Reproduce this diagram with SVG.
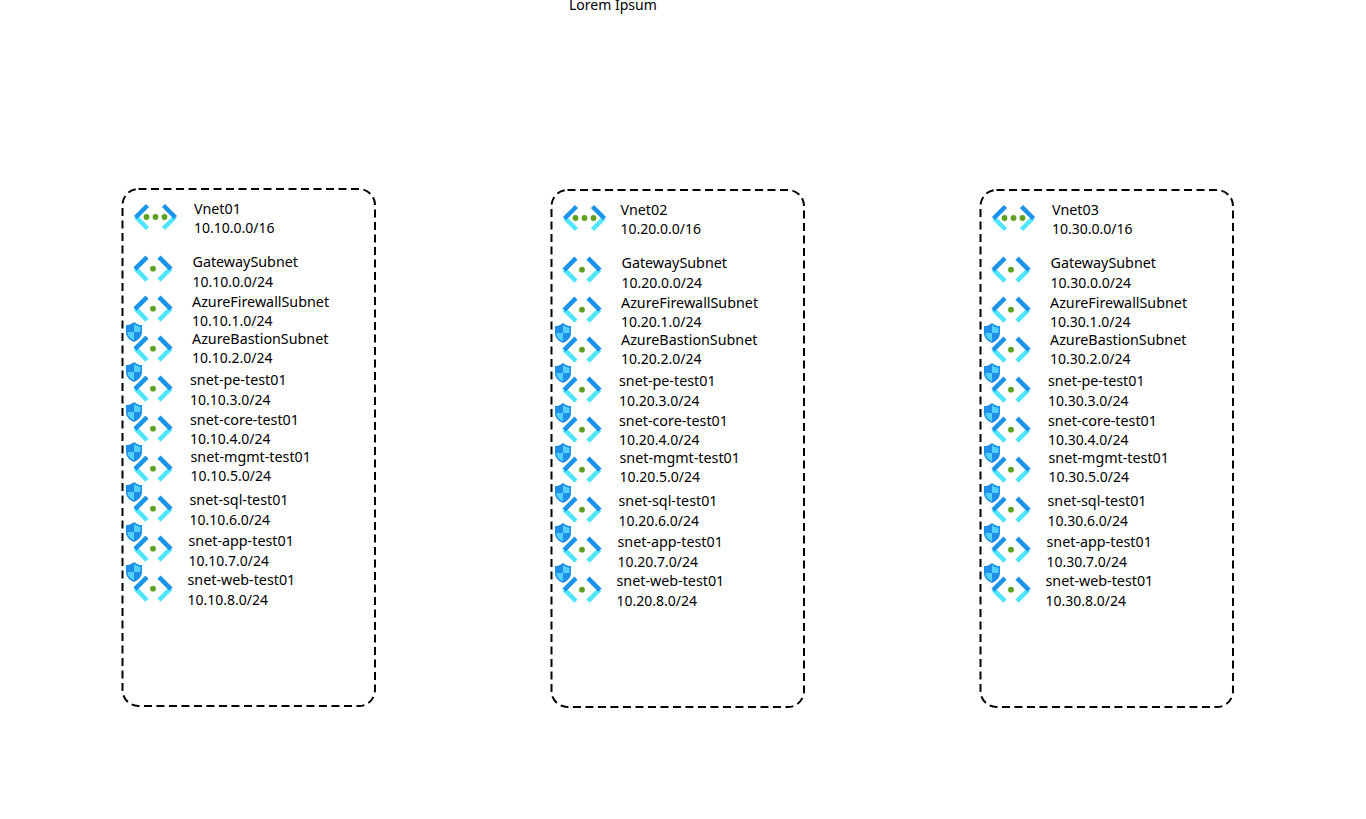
<svg xmlns="http://www.w3.org/2000/svg" width="1366" height="819" viewBox="0 0 1366 819">
<style>
text{font-family:"Noto Sans","Open Sans","Liberation Sans",sans-serif;font-size:14.3px;fill:#000}
#title,g text:nth-of-type(2){font-size:14px}
.box{fill:none;stroke:#000;stroke-width:2;stroke-dasharray:8 4.500}
.d{fill:#5ea01f}
.a1{fill:none;stroke:#1b93eb;stroke-width:4.500}
.a2{fill:none;stroke:#50e6ff;stroke-width:4.500}
</style>
<defs>
<g id="sub" transform="translate(0 .7)">
<path class="a2" d="M-17.500 0L-6 11.500M17.500 0L6 11.500"/>
<path class="a1" d="M-6-11.500L-18 0.500M6-11.500L18 0.500"/>
<circle class="d" cx="0" cy="0" r="2.900"/>
</g>
<g id="vnet" transform="translate(.5 0)">
<path class="a2" d="M-19.500 0L-8 11.500M19.500 0L8 11.500"/>
<path class="a1" d="M-8-11.500L-20 0.500M8-11.500L20 0.500"/>
<circle class="d" cx="-9" cy="0" r="2.900"/><circle class="d" cx="0" cy="0" r="2.900"/><circle class="d" cx="9" cy="0" r="2.900"/>
</g>
<g id="shield">
<path d="M0-10C3-7.500 5.500-7 8-7L8 0C8 5 4 8.500 0 10C-4 8.500-8 5-8 0L-8-7C-5.500-7-3-7.500 0-10Z" fill="#1e8ee8"/>
<path d="M0-8C2.500-6 4.500-5.500 6.500-5.500L6.500 0L0 0Z" fill="#50d0fb"/>
<path d="M0 0L-6.500 0C-6.500 4-3.500 7 0 8.500Z" fill="#50d0fb"/>
</g>
</defs>
<text id="title" x="569" y="10">Lorem Ipsum</text>
<g id="connectors"/>
<g id="vnet01-block">
<rect class="box" x="122.500" y="189" width="252.500" height="517" rx="16"/>
<g id="vnet01"><use href="#vnet" x="155" y="217"/><text x="194" y="214">Vnet01</text><text x="194" y="233">10.10.0.0/16</text></g>
<g id="v1-gateway"><use href="#sub" x="153" y="268"/><text x="192.500" y="267">GatewaySubnet</text><text x="192.500" y="287">10.10.0.0/24</text></g>
<g id="v1-firewall"><use href="#sub" x="153" y="308"/><text x="192" y="307">AzureFirewallSubnet</text><text x="192" y="326">10.10.1.0/24</text></g>
<g id="v1-bastion"><use href="#sub" x="153" y="348"/><use href="#shield" x="134" y="332"/><text x="192" y="344">AzureBastionSubnet</text><text x="192" y="363">10.10.2.0/24</text></g>
<g id="v1-pe"><use href="#sub" x="153" y="388"/><use href="#shield" x="134" y="372"/><text x="190" y="385">snet-pe-test01</text><text x="190" y="405">10.10.3.0/24</text></g>
<g id="v1-core"><use href="#sub" x="153" y="428"/><use href="#shield" x="134" y="412"/><text x="190" y="425">snet-core-test01</text><text x="190" y="444">10.10.4.0/24</text></g>
<g id="v1-mgmt"><use href="#sub" x="153" y="468"/><use href="#shield" x="134" y="452"/><text x="190.500" y="462">snet-mgmt-test01</text><text x="190.500" y="481">10.10.5.0/24</text></g>
<g id="v1-sql"><use href="#sub" x="153" y="508"/><use href="#shield" x="134" y="492"/><text x="189.500" y="505">snet-sql-test01</text><text x="189.500" y="525">10.10.6.0/24</text></g>
<g id="v1-app"><use href="#sub" x="153" y="548"/><use href="#shield" x="134" y="532"/><text x="188.500" y="546">snet-app-test01</text><text x="188.500" y="566">10.10.7.0/24</text></g>
<g id="v1-web"><use href="#sub" x="153" y="588"/><use href="#shield" x="134" y="572"/><text x="187.500" y="585">snet-web-test01</text><text x="187.500" y="605">10.10.8.0/24</text></g>
</g>
<g id="vnet02-block">
<rect class="box" x="551.500" y="190" width="252.500" height="517" rx="16"/>
<g id="vnet02"><use href="#vnet" x="584" y="218"/><text x="620.500" y="215">Vnet02</text><text x="620.500" y="234">10.20.0.0/16</text></g>
<g id="v2-gateway"><use href="#sub" x="582" y="269"/><text x="621.500" y="268">GatewaySubnet</text><text x="621.500" y="288">10.20.0.0/24</text></g>
<g id="v2-firewall"><use href="#sub" x="582" y="309"/><text x="621" y="308">AzureFirewallSubnet</text><text x="621" y="327">10.20.1.0/24</text></g>
<g id="v2-bastion"><use href="#sub" x="582" y="349"/><use href="#shield" x="563" y="333"/><text x="621" y="345">AzureBastionSubnet</text><text x="621" y="364">10.20.2.0/24</text></g>
<g id="v2-pe"><use href="#sub" x="582" y="389"/><use href="#shield" x="563" y="373"/><text x="619" y="386">snet-pe-test01</text><text x="619" y="406">10.20.3.0/24</text></g>
<g id="v2-core"><use href="#sub" x="582" y="429"/><use href="#shield" x="563" y="413"/><text x="619" y="426">snet-core-test01</text><text x="619" y="445">10.20.4.0/24</text></g>
<g id="v2-mgmt"><use href="#sub" x="582" y="469"/><use href="#shield" x="563" y="453"/><text x="619.500" y="463">snet-mgmt-test01</text><text x="619.500" y="482">10.20.5.0/24</text></g>
<g id="v2-sql"><use href="#sub" x="582" y="509"/><use href="#shield" x="563" y="493"/><text x="618.500" y="506">snet-sql-test01</text><text x="618.500" y="526">10.20.6.0/24</text></g>
<g id="v2-app"><use href="#sub" x="582" y="549"/><use href="#shield" x="563" y="533"/><text x="617.500" y="547">snet-app-test01</text><text x="617.500" y="567">10.20.7.0/24</text></g>
<g id="v2-web"><use href="#sub" x="582" y="589"/><use href="#shield" x="563" y="573"/><text x="616.500" y="586">snet-web-test01</text><text x="616.500" y="606">10.20.8.0/24</text></g>
</g>
<g id="vnet03-block">
<rect class="box" x="980.500" y="190" width="252.500" height="517" rx="16"/>
<g id="vnet03"><use href="#vnet" x="1013" y="218"/><text x="1052" y="215">Vnet03</text><text x="1052" y="234">10.30.0.0/16</text></g>
<g id="v3-gateway"><use href="#sub" x="1011" y="269"/><text x="1050.500" y="268">GatewaySubnet</text><text x="1050.500" y="288">10.30.0.0/24</text></g>
<g id="v3-firewall"><use href="#sub" x="1011" y="309"/><text x="1050" y="308">AzureFirewallSubnet</text><text x="1050" y="327">10.30.1.0/24</text></g>
<g id="v3-bastion"><use href="#sub" x="1011" y="349"/><use href="#shield" x="992" y="333"/><text x="1050" y="345">AzureBastionSubnet</text><text x="1050" y="364">10.30.2.0/24</text></g>
<g id="v3-pe"><use href="#sub" x="1011" y="389"/><use href="#shield" x="992" y="373"/><text x="1048" y="386">snet-pe-test01</text><text x="1048" y="406">10.30.3.0/24</text></g>
<g id="v3-core"><use href="#sub" x="1011" y="429"/><use href="#shield" x="992" y="413"/><text x="1048" y="426">snet-core-test01</text><text x="1048" y="445">10.30.4.0/24</text></g>
<g id="v3-mgmt"><use href="#sub" x="1011" y="469"/><use href="#shield" x="992" y="453"/><text x="1048.500" y="463">snet-mgmt-test01</text><text x="1048.500" y="482">10.30.5.0/24</text></g>
<g id="v3-sql"><use href="#sub" x="1011" y="509"/><use href="#shield" x="992" y="493"/><text x="1047.500" y="506">snet-sql-test01</text><text x="1047.500" y="526">10.30.6.0/24</text></g>
<g id="v3-app"><use href="#sub" x="1011" y="549"/><use href="#shield" x="992" y="533"/><text x="1046.500" y="547">snet-app-test01</text><text x="1046.500" y="567">10.30.7.0/24</text></g>
<g id="v3-web"><use href="#sub" x="1011" y="589"/><use href="#shield" x="992" y="573"/><text x="1045.500" y="586">snet-web-test01</text><text x="1045.500" y="606">10.30.8.0/24</text></g>
</g>
</svg>
